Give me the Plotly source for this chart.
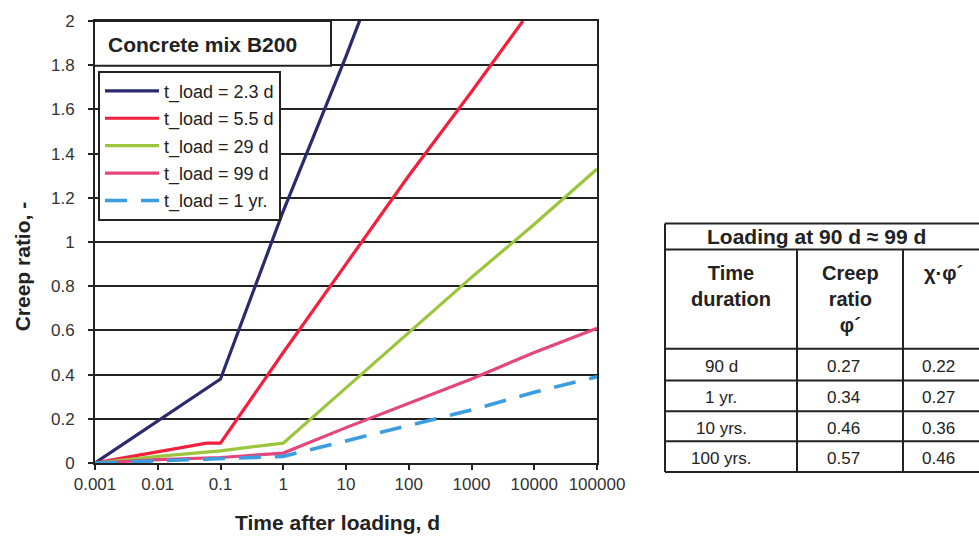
import plotly.graph_objects as go

# ---------------- data ----------------
series_names = ["t_load = 2.3 d", "t_load = 5.5 d", "t_load = 29 d", "t_load = 99 d", "t_load = 1 yr."]

x_23 = [0.001, 0.01, 0.1, 1, 10, 18]
y_23 = [0.0, 0.19, 0.38, 1.14, 1.84, 2.03]

x_55 = [0.001, 0.01, 0.06, 0.1, 1, 10, 100, 1000, 6600]
y_55 = [0.0, 0.05, 0.09, 0.09, 0.50, 0.90, 1.30, 1.68, 2.0]

x_29 = [0.001, 0.01, 0.1, 1, 10, 100, 1000, 10000, 100000]
y_29 = [0.0, 0.03, 0.055, 0.09, 0.34, 0.59, 0.84, 1.08, 1.33]

x_99 = [0.001, 0.01, 0.1, 1, 10, 100, 1000, 10000, 100000]
y_99 = [0.0, 0.015, 0.025, 0.045, 0.16, 0.27, 0.38, 0.50, 0.61]

x_1yr = [0.001, 0.01, 0.1, 1, 10, 100, 1000, 10000, 100000]
y_1yr = [0.0, 0.01, 0.018, 0.03, 0.10, 0.17, 0.24, 0.32, 0.39]

x_tick_vals = [0.001, 0.01, 0.1, 1, 10, 100, 1000, 10000, 100000]
x_tick_text = ["0.001", "0.01", "0.1", "1", "10", "100", "1000", "10000", "100000"]
y_tick_vals = [0, 0.2, 0.4, 0.6, 0.8, 1, 1.2, 1.4, 1.6, 1.8, 2]
y_tick_text = ["0", "0.2", "0.4", "0.6", "0.8", "1", "1.2", "1.4", "1.6", "1.8", "2"]

chart_box_title = "Concrete mix B200"
x_title = "Time after loading, d"
y_title = "Creep ratio, -"

table_title = "Loading at 90 d \u2248 99 d"
table_headers = ["Time<br>duration", "Creep<br>ratio<br>\u03c6\u00b4", "\u03c7\u00b7\u03c6\u00b4"]
durations = ["90 d", "1 yr.", "10 yrs.", "100 yrs."]
creep_ratio = ["0.27", "0.34", "0.46", "0.57"]
chi_phi = ["0.22", "0.27", "0.36", "0.46"]

# ---------------- styles ----------------
FONT = "Arial, Liberation Sans, sans-serif"
colors = ["#2b2a6e", "#f2203c", "#9bc53d", "#e4467c", "#3b9de0"]
dashes = ["solid", "solid", "solid", "solid", "22px,14px"]

# plot area in pixels
L, R, T, B = 95, 597, 18, 463
W_FIG, H_FIG = 979, 538


def px(x):
    return (x - L) / (R - L)


def py(y):
    return (B - y) / (B - T)


fig = go.Figure()
xs = [x_23, x_55, x_29, x_99, x_1yr]
ys = [y_23, y_55, y_29, y_99, y_1yr]
for i, name in enumerate(series_names):
    fig.add_trace(go.Scatter(
        x=xs[i], y=ys[i], mode="lines", name=name,
        legendgroup=f"g{i}",
        line=dict(color=colors[i], width=3.2 if i < 4 else 3.6, dash=dashes[i]),
        cliponaxis=False,
    ))

shapes = []
annotations = []

# title box inside chart
shapes.append(dict(type="rect", xref="paper", yref="paper",
                   x0=px(94), x1=px(331), y0=py(63), y1=py(18),
                   line=dict(color="#222", width=2), fillcolor="white", layer="above"))
annotations.append(dict(xref="paper", yref="paper", x=px(106), y=py(42),
                        xanchor="left", yanchor="middle", showarrow=False,
                        text=f"<b>{chart_box_title}</b>",
                        font=dict(family=FONT, size=21, color="#222")))

# axis titles
annotations.append(dict(xref="paper", yref="paper", x=px(337), y=py(523),
                        xanchor="center", yanchor="middle", showarrow=False,
                        text=f"<b>{x_title}</b>",
                        font=dict(family=FONT, size=21, color="#222")))
annotations.append(dict(xref="paper", yref="paper", x=px(22), y=py(265),
                        xanchor="center", yanchor="middle", showarrow=False,
                        textangle=-90, text=f"<b>{y_title}</b>",
                        font=dict(family=FONT, size=21, color="#222")))

# ---------------- table (drawn with shapes + text) ----------------
tx0, tx1 = 665, 995
col_x = [665, 797, 903, 995]
row_y = [222, 248, 348, 380, 411, 441, 472]
lc = dict(color="#222", width=2)
for yy in row_y:
    shapes.append(dict(type="line", xref="paper", yref="paper",
                       x0=px(tx0), x1=px(tx1), y0=py(yy), y1=py(yy), line=lc))
shapes.append(dict(type="line", xref="paper", yref="paper",
                   x0=px(tx0), x1=px(tx0), y0=py(row_y[0]), y1=py(row_y[-1]), line=lc))
for cx in col_x[1:3]:
    shapes.append(dict(type="line", xref="paper", yref="paper",
                       x0=px(cx), x1=px(cx), y0=py(row_y[1]), y1=py(row_y[-1]), line=lc))

annotations.append(dict(xref="paper", yref="paper", x=px(816), y=py(235),
                        xanchor="center", yanchor="middle", showarrow=False,
                        text=f"<b>{table_title}</b>",
                        font=dict(family=FONT, size=21, color="#222")))
head_x = [731, 850, 943]
for hx, ht in zip(head_x, table_headers):
    annotations.append(dict(xref="paper", yref="paper", x=px(hx), y=py(259),
                            xanchor="center", yanchor="top", showarrow=False,
                            text=f"<b>{ht}</b>", align="center",
                            font=dict(family=FONT, size=20, color="#222")))
cell_y = [366, 397, 428, 458]
for j in range(len(durations)):
    for cx, txt in zip([721, 843, 938], [durations[j], creep_ratio[j], chi_phi[j]]):
        annotations.append(dict(xref="paper", yref="paper", x=px(cx), y=py(cell_y[j]),
                                xanchor="center", yanchor="middle", showarrow=False,
                                text=txt, font=dict(family=FONT, size=17, color="#222")))

fig.update_layout(
    width=W_FIG, height=H_FIG,
    margin=dict(l=L, r=W_FIG - R, t=T, b=H_FIG - B),
    paper_bgcolor="white", plot_bgcolor="white",
    font=dict(family=FONT, size=17, color="#333"),
    showlegend=True,
    legend=dict(x=px(98), y=py(68), xanchor="left", yanchor="top",
                bgcolor="white", bordercolor="#222", borderwidth=2,
                font=dict(family=FONT, size=18, color="#222"),
                tracegroupgap=1, itemwidth=54),
    shapes=shapes, annotations=annotations,
)
fig.update_xaxes(type="log", range=[-3, 5], tickvals=x_tick_vals, ticktext=x_tick_text,
                 showgrid=False, showline=True, linecolor="#222", linewidth=2, mirror=True,
                 ticks="outside", ticklen=5, tickcolor="#222", tickwidth=1.5,
                 tickfont=dict(family=FONT, size=17, color="#333"), zeroline=False)
fig.update_yaxes(range=[0, 2], tickvals=y_tick_vals, ticktext=y_tick_text,
                 showgrid=True, gridcolor="#222", gridwidth=1.5,
                 showline=True, linecolor="#222", linewidth=2, mirror=True,
                 ticks="outside", ticklen=5, tickcolor="#222", tickwidth=1.5,
                 ticklabelstandoff=10,
                 tickfont=dict(family=FONT, size=17, color="#333"), zeroline=False)

fig.write_html("out.html")
